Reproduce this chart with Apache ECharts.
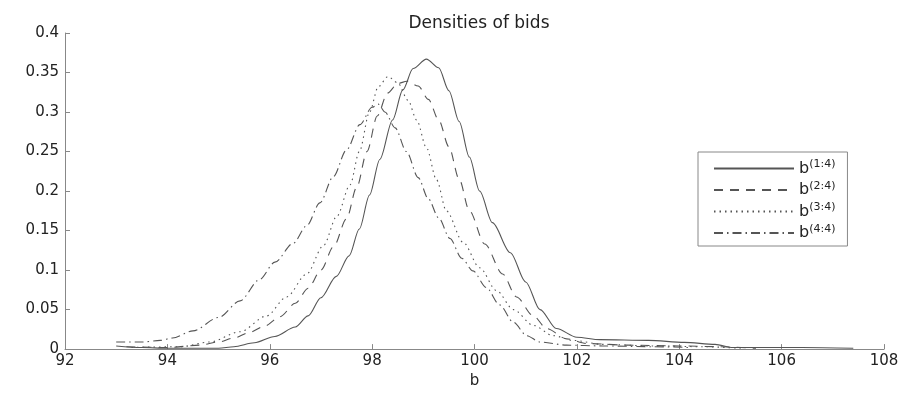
<!DOCTYPE html>
<html>
<head>
<meta charset="utf-8">
<script src="https://cdn.jsdelivr.net/npm/echarts@6/dist/echarts.min.js"></script>
<style>
  html, body { margin: 0; padding: 0; background: #fff; }
  #chart { width: 906px; height: 394px; }
</style>
</head>
<body>
<div id="chart"></div>
<script>
// density estimates, [b, density]
const b14 = [[93.0,0.004],[93.5,0.002],[94.0,0.001],[94.5,0.001],[95.0,0.001],[95.3,0.003],[95.7,0.008],[96.1,0.016],[96.5,0.028],[96.75,0.042],[97.0,0.065],[97.3,0.092],[97.55,0.118],[97.75,0.152],[97.95,0.195],[98.15,0.24],[98.4,0.29],[98.6,0.328],[98.8,0.355],[99.06,0.367],[99.3,0.356],[99.5,0.327],[99.7,0.288],[99.9,0.243],[100.1,0.2],[100.35,0.16],[100.7,0.122],[101.0,0.085],[101.28,0.05],[101.6,0.026],[102.0,0.015],[102.45,0.012],[103.4,0.011],[104.1,0.0085],[104.7,0.006],[105.05,0.002],[106.4,0.002],[107.4,0.001]];
const b24 = [[93.2,0.003],[94.0,0.002],[94.64,0.005],[95.0,0.009],[95.3,0.014],[95.6,0.021],[95.9,0.029],[96.2,0.041],[96.5,0.058],[96.75,0.077],[97.0,0.1],[97.25,0.13],[97.5,0.165],[97.7,0.205],[97.9,0.25],[98.1,0.295],[98.3,0.324],[98.5,0.336],[98.68,0.339],[98.9,0.333],[99.1,0.316],[99.3,0.29],[99.5,0.256],[99.7,0.215],[99.9,0.175],[100.2,0.133],[100.55,0.095],[100.82,0.066],[101.15,0.042],[101.41,0.026],[101.8,0.013],[102.2,0.007],[103.0,0.005],[104.0,0.004],[104.8,0.003],[105.5,0.001]];
const b34 = [[93.3,0.002],[94.25,0.003],[94.83,0.009],[95.42,0.022],[95.94,0.042],[96.33,0.066],[96.72,0.095],[97.05,0.131],[97.31,0.168],[97.57,0.208],[97.75,0.25],[97.95,0.3],[98.12,0.332],[98.31,0.345],[98.5,0.337],[98.7,0.315],[98.87,0.29],[99.06,0.255],[99.26,0.214],[99.45,0.175],[99.78,0.135],[100.1,0.103],[100.43,0.074],[100.76,0.05],[101.15,0.03],[101.54,0.017],[101.93,0.011],[102.5,0.006],[103.5,0.004],[104.5,0.003],[105.2,0.001]];
const b44 = [[93.0,0.009],[93.5,0.009],[93.86,0.011],[94.1,0.014],[94.5,0.023],[95.0,0.04],[95.42,0.061],[95.8,0.088],[96.1,0.11],[96.46,0.134],[96.72,0.156],[96.98,0.185],[97.24,0.218],[97.5,0.252],[97.76,0.284],[98.0,0.306],[98.12,0.31],[98.25,0.3],[98.45,0.28],[98.67,0.25],[98.9,0.217],[99.1,0.19],[99.3,0.166],[99.52,0.14],[99.75,0.115],[99.97,0.099],[100.23,0.078],[100.49,0.056],[100.76,0.034],[101.02,0.017],[101.28,0.009],[101.8,0.005],[102.5,0.004],[103.5,0.003],[104.2,0.002]];

const seriesNames = ['b(1:4)', 'b(2:4)', 'b(3:4)', 'b(4:4)'];
const superscripts = ['(1:4)', '(2:4)', '(3:4)', '(4:4)'];
const seriesData = [b14, b24, b34, b44];
const dashTypes = ['solid', [9, 7], [1.5, 4], [9, 4, 1.5, 4]];

const font = 'DejaVu Sans, Arial, sans-serif';
const lineColor = '#555';

const chart = echarts.init(document.getElementById('chart'));

const option = {
  animation: false,
  title: {
    text: 'Densities of bids',
    left: 474,
    textAlign: 'center',
    top: 10,
    textStyle: { fontFamily: font, fontSize: 17, fontWeight: 'normal', color: '#222' }
  },
  legend: {
    orient: 'vertical',
    left: 698,
    top: 152,
    padding: [7, 12, 5, 15],
    itemGap: 4,
    itemWidth: 80,
    itemHeight: 14,
    borderColor: '#888',
    borderWidth: 1,
    itemStyle: { opacity: 0 },
    data: seriesNames,
    formatter: function (name) {
      const i = seriesNames.indexOf(name);
      return '{b|b}{s|' + superscripts[i] + '}';
    },
    textStyle: {
      color: '#222',
      rich: {
        b: { fontFamily: font, fontSize: 16, color: '#222', lineHeight: 14 },
        s: { fontFamily: font, fontSize: 11, color: '#222', padding: [0, 0, 8, 0] }
      }
    }
  },
  grid: {
    left: 65,
    right: 22,
    top: 33,
    bottom: 33
  },
  xAxis: {
    type: 'value',
    min: 92,
    max: 108,
    interval: 2,
    name: 'b',
    nameLocation: 'middle',
    nameGap: 17,
    nameTextStyle: { fontFamily: font, fontSize: 15, color: '#222' },
    axisLine: { lineStyle: { color: '#888' } },
    axisTick: { inside: true, length: 5, lineStyle: { color: '#888' } },
    axisLabel: { fontFamily: font, fontSize: 15, color: '#222', margin: 5 },
    splitLine: { show: false }
  },
  yAxis: {
    type: 'value',
    min: 0,
    max: 0.4,
    interval: 0.05,
    axisLine: { show: true, lineStyle: { color: '#888' } },
    axisTick: { show: true, inside: true, length: 5, lineStyle: { color: '#888' } },
    axisLabel: { fontFamily: font, fontSize: 15, color: '#222', margin: 6 },
    splitLine: { show: false }
  },
  series: seriesData.map((d, i) => ({
    name: seriesNames[i],
    type: 'line',
    data: d,
    smooth: 0.3,
    smoothMonotone: 'x',
    symbol: 'none',
    lineStyle: { color: lineColor, width: 1.1, type: dashTypes[i] },
    itemStyle: { color: lineColor }
  }))
};

chart.setOption(option);
</script>
</body>
</html>
